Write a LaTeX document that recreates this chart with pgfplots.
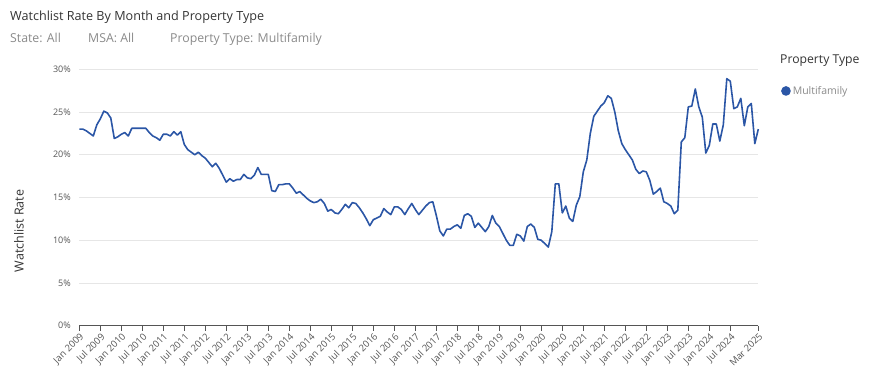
\documentclass[border=0pt]{standalone}
\usepackage{fontspec}
\setmainfont{Open Sans}
\usepackage{pgfplots}
\pgfplotsset{compat=1.18}
\definecolor{linec}{HTML}{2B56A6}
\definecolor{titlec}{HTML}{333333}
\definecolor{subc}{HTML}{8A8A8A}
\definecolor{labc}{HTML}{555555}
\definecolor{axc}{HTML}{555555}
\definecolor{gridc}{HTML}{E6E6E6}
\begin{document}
\begin{tikzpicture}[x=1pt,y=1pt]
\path[use as bounding box] (0,0) rectangle (878,390);
\node[anchor=base west, inner sep=0, text=titlec, font=\fontsize{12.6}{15}\selectfont] at (10,369) {Watchlist Rate By Month and Property Type};
\node[anchor=base west, inner sep=0, text=subc, font=\fontsize{12.3}{14}\selectfont] at (10,347) {State: All};
\node[anchor=base west, inner sep=0, text=subc, font=\fontsize{12.3}{14}\selectfont] at (88,347) {MSA: All};
\node[anchor=base west, inner sep=0, text=subc, font=\fontsize{12.3}{14}\selectfont] at (170,347) {Property Type: Multifamily};
\node[rotate=90, inner sep=0, text=titlec, font=\fontsize{12.5}{14}\selectfont] at (19,159) {Watchlist Rate};
\node[anchor=base west, inner sep=0, text=titlec, font=\fontsize{12.2}{14}\selectfont] at (780,326) {Property Type};
\begin{axis}[
  at={(79.3pt,64.3pt)}, anchor=south west,
  scale only axis, width=679pt, height=256.4pt,
  xmin=0, xmax=194, ymin=0, ymax=30,
  axis x line*=bottom, axis y line*=left,
  y axis line style={draw=none},
  x axis line style={draw=axc, line width=0.8pt},
  ytick={0,5,...,30},
  yticklabel={\pgfmathprintnumber{\tick}\%},
  ytick style={draw=none},
  xtick={0,6,...,186,194},
  xticklabels={Jan 2009,Jul 2009,Jan 2010,Jul 2010,Jan 2011,Jul 2011,Jan 2012,Jul 2012,Jan 2013,Jul 2013,Jan 2014,Jul 2014,Jan 2015,Jul 2015,Jan 2016,Jul 2016,Jan 2017,Jul 2017,Jan 2018,Jul 2018,Jan 2019,Jul 2019,Jan 2020,Jul 2020,Jan 2021,Jul 2021,Jan 2022,Jul 2022,Jan 2023,Jul 2023,Jan 2024,Jul 2024,Mar 2025},
  xtick style={draw=axc, line width=0.8pt},
  tick align=outside, major tick length=5pt,
  x tick label style={rotate=45, anchor=north east, font=\fontsize{9.5}{10}\selectfont, text=labc, inner sep=1pt},
  y tick label style={font=\fontsize{9}{10}\selectfont, text=labc},
  /pgf/number format/assume math mode=true,
  ymajorgrids, grid style={draw=gridc, line width=0.8pt},
  clip=false,
  legend style={at={(1.0334,0.9154)}, anchor=west, draw=none, fill=none, inner sep=0pt, font=\fontsize{10.5}{12}\selectfont, text=subc},
  legend image code/.code={\fill[linec] (3pt,0pt) circle (4pt);},
]
\addplot[linec, line width=1.6pt, line join=round] coordinates {
(0,23.0)(1,23.0)(2,22.8)(3,22.5)(4,22.2)(5,23.5)(6,24.2)(7,25.1)(8,24.9)(9,24.3)
(10,21.9)(11,22.1)(12,22.4)(13,22.6)(14,22.2)(15,23.1)(16,23.1)(17,23.1)(18,23.1)(19,23.1)
(20,22.6)(21,22.2)(22,22.0)(23,21.7)(24,22.4)(25,22.4)(26,22.2)(27,22.7)(28,22.3)(29,22.7)
(30,21.2)(31,20.6)(32,20.3)(33,20.0)(34,20.3)(35,19.9)(36,19.6)(37,19.1)(38,18.6)(39,19.0)
(40,18.4)(41,17.6)(42,16.8)(43,17.2)(44,16.9)(45,17.1)(46,17.1)(47,17.7)(48,17.3)(49,17.2)
(50,17.6)(51,18.5)(52,17.7)(53,17.7)(54,17.7)(55,15.8)(56,15.7)(57,16.5)(58,16.5)(59,16.6)
(60,16.6)(61,16.1)(62,15.5)(63,15.7)(64,15.3)(65,14.9)(66,14.6)(67,14.4)(68,14.5)(69,14.8)
(70,14.3)(71,13.4)(72,13.6)(73,13.2)(74,13.1)(75,13.6)(76,14.2)(77,13.8)(78,14.4)(79,14.3)
(80,13.8)(81,13.2)(82,12.5)(83,11.7)(84,12.4)(85,12.6)(86,12.8)(87,13.7)(88,13.3)(89,13.0)
(90,13.9)(91,13.9)(92,13.6)(93,13.0)(94,13.7)(95,14.3)(96,13.6)(97,13.0)(98,13.5)(99,14.0)
(100,14.4)(101,14.5)(102,12.9)(103,11.1)(104,10.5)(105,11.3)(106,11.3)(107,11.6)(108,11.8)(109,11.4)
(110,12.9)(111,13.1)(112,12.8)(113,11.5)(114,12.0)(115,11.5)(116,11.0)(117,11.6)(118,12.9)(119,12.0)
(120,11.6)(121,10.8)(122,10.0)(123,9.4)(124,9.4)(125,10.7)(126,10.5)(127,9.9)(128,11.6)(129,11.9)
(130,11.5)(131,10.1)(132,10.0)(133,9.6)(134,9.2)(135,11.0)(136,16.6)(137,16.6)(138,13.2)(139,14.0)
(140,12.6)(141,12.2)(142,14.1)(143,15.1)(144,18.0)(145,19.4)(146,22.5)(147,24.5)(148,25.1)(149,25.7)
(150,26.1)(151,26.9)(152,26.6)(153,25.0)(154,22.8)(155,21.3)(156,20.6)(157,20.0)(158,19.4)(159,18.3)
(160,17.8)(161,18.1)(162,18.0)(163,17.0)(164,15.4)(165,15.7)(166,16.1)(167,14.5)(168,14.3)(169,14.0)
(170,13.1)(171,13.5)(172,21.5)(173,22.0)(174,25.6)(175,25.7)(176,27.7)(177,25.6)(178,24.4)(179,20.2)
(180,21.1)(181,23.6)(182,23.6)(183,21.6)(184,23.5)(185,28.9)(186,28.6)(187,25.4)(188,25.6)(189,26.6)
(190,23.4)(191,25.6)(192,26.0)(193,21.3)(194,23.0)
};
\addlegendentry{Multifamily}
\end{axis}
\end{tikzpicture}
\end{document}
